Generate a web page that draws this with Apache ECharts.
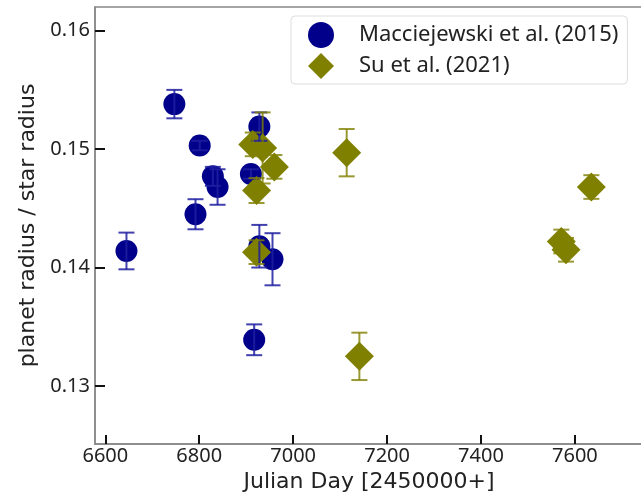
<!DOCTYPE html>
<html>
<head>
<meta charset="utf-8">
<script src="https://cdn.jsdelivr.net/npm/echarts@6/dist/echarts.min.js"></script>
<style>
  html, body { margin: 0; padding: 0; background: #fff; }
  #main { width: 641px; height: 493px; }
</style>
</head>
<body>
<div id="main"></div>
<script>
// Macciejewski et al. (2015)
var macDay = [6645, 6747, 6801, 6792, 6829, 6839, 6910, 6928, 6928, 6956, 6917]
var macRatio = [0.1414, 0.1538, 0.1503, 0.1445, 0.1477, 0.1468, 0.1479, 0.1519, 0.1418, 0.1407, 0.1339]
var macErr = [0.00155, 0.0012, 0.0004, 0.00127, 0.0008, 0.0015, 0.0004, 0.0012, 0.0018, 0.0022, 0.0013]
// Su et al. (2021)
var suDay = [6914, 6935, 6960, 6922, 6922, 7114, 7141, 7635, 7571, 7581]
var suRatio = [0.1504, 0.1501, 0.1485, 0.1465, 0.1413, 0.1497, 0.1325, 0.1468, 0.1422, 0.1415]
var suErr = [0.001, 0.003, 0.001, 0.00105, 0.001, 0.002, 0.002, 0.001, 0.001, 0.001]
// 刻度
var xTicks = [6600, 6800, 7000, 7200, 7400, 7600]
var yTicks = [0.13, 0.14, 0.15, 0.16]

var FONT = 'Noto Sans'
var NAME_FONT = 'DejaVu Sans'

function pts(xs, ys) {
  return xs.map(function(x, i) { return [x, ys[i]] })
}
function errPts(xs, ys, es) {
  return xs.map(function(x, i) { return [x, ys[i] - es[i], ys[i] + es[i]] })
}
// 误差线（竖线加上下横帽）
function errorBar(color) {
  return function(params, api) {
    var lo = api.coord([api.value(0), api.value(1)])
    var hi = api.coord([api.value(0), api.value(2)])
    var cap = 8
    var st = { stroke: color, lineWidth: 2 }
    return {
      type: 'group',
      children: [
        { type: 'line', shape: { x1: lo[0], y1: lo[1], x2: hi[0], y2: hi[1] }, style: st },
        { type: 'line', shape: { x1: lo[0] - cap, y1: lo[1], x2: lo[0] + cap, y2: lo[1] }, style: st },
        { type: 'line', shape: { x1: hi[0] - cap, y1: hi[1], x2: hi[0] + cap, y2: hi[1] }, style: st }
      ]
    }
  }
}

var chart = echarts.init(document.getElementById('main'))
chart.setOption({
  animation: false,
  textStyle: { fontFamily: FONT },
  grid: {
    left: 95, top: 7, right: -2, bottom: 49,
    outerBoundsMode: 'none',
    containLabel: false,
    show: true, borderColor: '#888', borderWidth: 1.5, backgroundColor: '#fff'
  },
  legend: {
    orient: 'vertical',
    left: 291, top: 16,
    padding: [6, 9, 5, 17],
    itemGap: 5,
    itemWidth: 26, itemHeight: 26,
    backgroundColor: '#fff',
    borderColor: '#ddd', borderWidth: 1, borderRadius: 4,
    textStyle: { fontSize: 22, color: '#222', fontFamily: FONT, padding: [0, 0, 0, 20] },
    data: [
      { name: 'Macciejewski et al. (2015)', icon: 'circle' },
      { name: 'Su et al. (2021)', icon: 'diamond' }
    ]
  },
  xAxis: {
    type: 'value',
    min: 6578, max: 7745,
    name: 'Julian Day [2450000+]',
    nameLocation: 'middle',
    nameGap: 22,
    nameTextStyle: { fontSize: 22, color: '#222', fontFamily: NAME_FONT },
    axisLine: { lineStyle: { color: '#888', width: 1.5 } },
    axisTick: { inside: true, length: 9, lineStyle: { color: '#111', width: 2 }, customValues: xTicks },
    axisLabel: {
      fontSize: 20, color: '#222', margin: 2, fontFamily: FONT,
      customValues: xTicks,
      formatter: function(v) { return String(v) }
    },
    splitLine: { show: false }
  },
  yAxis: {
    type: 'value',
    min: 0.1251, max: 0.1620,
    name: 'planet radius / star radius',
    nameLocation: 'middle',
    nameGap: 52,
    nameTextStyle: { fontSize: 22, color: '#222', fontFamily: NAME_FONT },
    axisLine: { lineStyle: { color: '#888', width: 1.5 } },
    axisTick: { inside: true, length: 10, lineStyle: { color: '#111', width: 2 }, customValues: yTicks },
    axisLabel: {
      fontSize: 20, color: '#222', margin: 5, fontFamily: FONT,
      customValues: yTicks,
      formatter: function(v) { return v.toFixed(2) }
    },
    splitLine: { show: false }
  },
  series: [
    {
      name: 'Macciejewski et al. (2015)',
      type: 'scatter',
      symbol: 'circle',
      symbolSize: 22,
      itemStyle: { color: '#00008b', opacity: 1 },
      data: pts(macDay, macRatio)
    },
    {
      name: 'Su et al. (2021)',
      type: 'scatter',
      symbol: 'diamond',
      symbolSize: 29,
      itemStyle: { color: '#808000', opacity: 1 },
      data: pts(suDay, suRatio)
    },
    {
      type: 'custom',
      renderItem: errorBar('rgba(30,30,160,0.85)'),
      encode: { x: 0, y: [1, 2] },
      z: 5,
      data: errPts(macDay, macRatio, macErr)
    },
    {
      type: 'custom',
      renderItem: errorBar('rgba(128,128,0,0.8)'),
      encode: { x: 0, y: [1, 2] },
      z: 5,
      data: errPts(suDay, suRatio, suErr)
    }
  ]
})
</script>
</body>
</html>
